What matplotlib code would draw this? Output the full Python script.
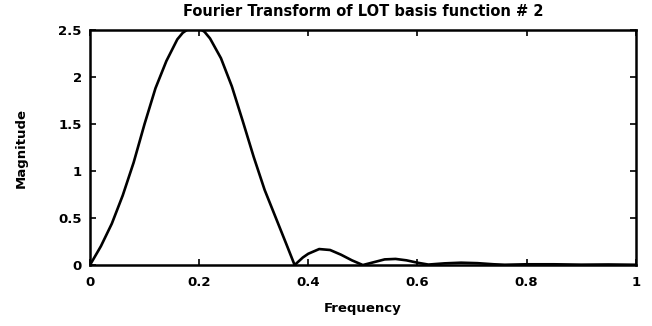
import matplotlib.pyplot as plt

# magnitude
freq = [0, 0.02, 0.04, 0.06, 0.08, 0.10, 0.12, 0.14, 0.16, 0.17, 0.18, 0.19,
        0.20, 0.21, 0.22, 0.24, 0.26, 0.28, 0.30, 0.32, 0.34, 0.36, 0.375,
        0.39, 0.40, 0.42, 0.44, 0.46, 0.48, 0.50,
        0.52, 0.54, 0.56, 0.58, 0.60, 0.62,
        0.65, 0.68, 0.71, 0.74, 0.76, 0.80, 0.85, 0.90, 0.95, 1.0]
mag = [0, 0.20, 0.44, 0.74, 1.09, 1.50, 1.88, 2.17, 2.40, 2.47, 2.51, 2.53,
       2.52, 2.48, 2.41, 2.20, 1.90, 1.53, 1.15, 0.80, 0.51, 0.22, 0.0,
       0.08, 0.12, 0.17, 0.16, 0.11, 0.05, 0.0,
       0.03, 0.06, 0.065, 0.05, 0.025, 0.005,
       0.018, 0.025, 0.02, 0.008, 0.003, 0.008, 0.008, 0.004, 0.006, 0.003]

xticks = [0, 0.2, 0.4, 0.6, 0.8, 1]
xtick_labels = ['0', '0.2', '0.4', '0.6', '0.8', '1']
yticks = [0, 0.5, 1, 1.5, 2, 2.5]
ytick_labels = ['0', '0.5', '1', '1.5', '2', '2.5']

fig = plt.figure(figsize=(6.52, 3.26), dpi=100)
ax = fig.add_axes([0.138, 0.187, 0.837, 0.721])
ax.plot(freq, mag, color='black', linewidth=1.9)
ax.set_xlim(0, 1)
ax.set_ylim(0, 2.5)
ax.set_xticks(xticks)
ax.set_xticklabels(xtick_labels, fontweight='bold', fontsize=9.5)
ax.set_yticks(yticks)
ax.set_yticklabels(ytick_labels, fontweight='bold', fontsize=9.5)
ax.tick_params(direction='in', length=4, width=1.2, top=True, right=True)
ax.tick_params(axis='x', pad=8)
ax.tick_params(axis='y', pad=6)
for s in ax.spines.values():
    s.set_linewidth(1.8)
ax.set_title('Fourier Transform of LOT basis function # 2', fontsize=10.5,
             fontweight='bold', pad=10)
ax.set_xlabel('Frequency', fontsize=9.5, fontweight='bold', labelpad=9)
ax.set_ylabel('Magnitude', fontsize=9.5, fontweight='bold', labelpad=22)
fig.savefig('out.png', dpi=100)
